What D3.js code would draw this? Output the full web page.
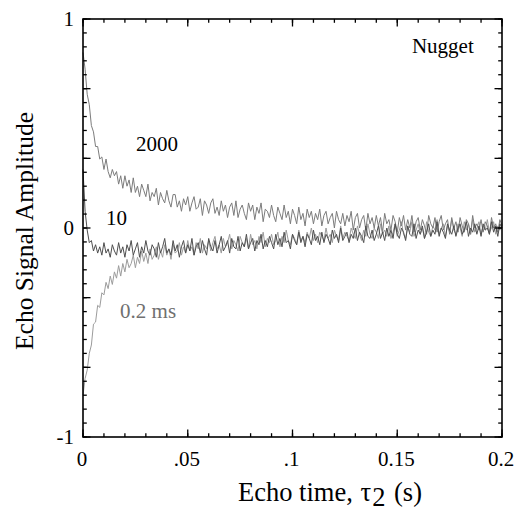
<!DOCTYPE html>
<html>
<head>
<meta charset="utf-8">
<script src="https://cdn.jsdelivr.net/npm/d3@7"></script>
<style>
  body { margin: 0; background: #fff; }
</style>
</head>
<body>
<svg id="chart" width="527" height="511"></svg>
<script>
const FONT = "'Liberation Serif', 'Times New Roman', Times, serif";

// Echo amplitude traces, sampled every 1 ms from 0 to 0.2 s
const sampleStep = 0.001;

// 2000 trace
const series2000 = [
  0.84, 0.76, 0.64, 0.59, 0.49, 0.46, 0.39, 0.39, 0.33, 0.34,
  0.28, 0.33, 0.27, 0.24, 0.28, 0.25, 0.27, 0.21, 0.25, 0.19,
  0.25, 0.20, 0.23, 0.17, 0.24, 0.17, 0.20, 0.15, 0.21, 0.18,
  0.15, 0.21, 0.13, 0.17, 0.15, 0.19, 0.11, 0.17, 0.14, 0.12,
  0.18, 0.13, 0.10, 0.16, 0.16, 0.10, 0.13, 0.08, 0.14, 0.11,
  0.15, 0.08, 0.12, 0.15, 0.09, 0.10, 0.14, 0.06, 0.13, 0.11,
  0.07, 0.12, 0.14, 0.07, 0.10, 0.06, 0.13, 0.08, 0.11, 0.05,
  0.10, 0.12, 0.06, 0.13, 0.05, 0.09, 0.11, 0.07, 0.04, 0.12,
  0.08, 0.11, 0.04, 0.10, 0.07, 0.12, 0.03, 0.09, 0.08, 0.05,
  0.11, 0.06, 0.03, 0.10, 0.07, 0.04, 0.11, 0.05, 0.08, 0.02,
  0.09, 0.06, 0.02, 0.10, 0.04, 0.07, 0.01, 0.09, 0.05, 0.08,
  0.02, 0.07, 0.04, 0.09, 0.01, 0.06, 0.08, 0.02, 0.05, 0.07,
  0.00, 0.08, 0.04, 0.02, 0.07, 0.01, 0.06, 0.03, 0.08, -0.01,
  0.05, 0.07, 0.00, 0.04, 0.06, -0.01, 0.07, 0.02, 0.05, 0.00,
  0.06, 0.01, 0.05, -0.02, 0.07, 0.02, 0.04, -0.01, 0.06, 0.03,
  -0.02, 0.05, 0.01, 0.06, -0.01, 0.04, 0.00, 0.06, -0.02, 0.03,
  0.05, -0.01, 0.04, 0.01, -0.03, 0.06, 0.02, 0.00, 0.05, -0.02,
  0.03, 0.06, -0.01, 0.02, 0.04, -0.03, 0.05, 0.00, 0.03, -0.02,
  0.05, 0.01, -0.02, 0.04, 0.02, -0.03, 0.06, 0.00, 0.02, -0.01,
  0.04, -0.02, 0.03, 0.01, -0.03, 0.05, 0.00, 0.02, -0.02, 0.04,
  0.01
];

// 10 trace
const series10 = [
  0.28, 0.08, -0.01, -0.07, -0.06, -0.11, -0.08, -0.12, -0.09, -0.13,
  -0.07, -0.12, -0.10, -0.14, -0.08, -0.11, -0.13, -0.07, -0.12, -0.09,
  -0.14, -0.08, -0.11, -0.06, -0.13, -0.10, -0.07, -0.14, -0.09, -0.12,
  -0.06, -0.11, -0.13, -0.08, -0.10, -0.14, -0.07, -0.12, -0.09, -0.05,
  -0.12, -0.10, -0.13, -0.06, -0.11, -0.08, -0.14, -0.09, -0.06, -0.12,
  -0.08, -0.11, -0.05, -0.13, -0.09, -0.07, -0.12, -0.06, -0.10, -0.13,
  -0.05, -0.09, -0.11, -0.06, -0.12, -0.08, -0.04, -0.11, -0.09, -0.06,
  -0.12, -0.05, -0.09, -0.10, -0.04, -0.11, -0.07, -0.09, -0.03, -0.10,
  -0.07, -0.05, -0.11, -0.06, -0.08, -0.03, -0.10, -0.06, -0.09, -0.04,
  -0.07, -0.10, -0.03, -0.08, -0.05, -0.09, -0.02, -0.07, -0.06, -0.10,
  -0.03, -0.06, -0.08, -0.02, -0.07, -0.04, -0.09, -0.03, -0.05, -0.08,
  -0.01, -0.06, -0.04, -0.08, -0.02, -0.07, -0.03, -0.05, -0.08, -0.01,
  -0.05, -0.03, -0.07, 0.00, -0.06, -0.04, -0.02, -0.07, -0.03, -0.05,
  0.00, -0.06, -0.02, -0.04, -0.07, 0.01, -0.04, -0.05, -0.01, -0.06,
  -0.03, 0.01, -0.05, -0.02, -0.06, 0.00, -0.04, -0.01, -0.05, 0.02,
  -0.03, -0.05, 0.00, -0.02, -0.06, 0.01, -0.03, -0.04, 0.02, -0.05,
  -0.01, -0.03, 0.01, -0.05, -0.02, 0.02, -0.04, -0.01, -0.03, 0.03,
  -0.04, 0.00, -0.02, -0.05, 0.02, -0.01, -0.03, 0.01, -0.04, 0.00,
  0.02, -0.03, -0.01, 0.03, -0.04, 0.00, -0.02, 0.02, -0.03, 0.01,
  -0.04, 0.02, -0.01, 0.00, -0.03, 0.03, -0.02, 0.01, -0.04, 0.02,
  0.00
];

// 0.2 ms trace
const series02 = [
  -0.80, -0.72, -0.68, -0.60, -0.56, -0.46, -0.45, -0.37, -0.38, -0.31,
  -0.32, -0.26, -0.29, -0.23, -0.27, -0.21, -0.24, -0.18, -0.23, -0.17,
  -0.21, -0.15, -0.19, -0.17, -0.13, -0.19, -0.14, -0.17, -0.11, -0.16,
  -0.12, -0.17, -0.10, -0.15, -0.13, -0.09, -0.15, -0.11, -0.14, -0.08,
  -0.13, -0.10, -0.15, -0.08, -0.12, -0.11, -0.07, -0.13, -0.09, -0.12,
  -0.06, -0.11, -0.09, -0.13, -0.07, -0.10, -0.05, -0.12, -0.08, -0.10,
  -0.06, -0.11, -0.07, -0.04, -0.10, -0.08, -0.12, -0.05, -0.09, -0.07,
  -0.03, -0.10, -0.06, -0.08, -0.11, -0.04, -0.07, -0.09, -0.05, -0.10,
  -0.03, -0.08, -0.06, -0.10, -0.04, -0.07, -0.02, -0.09, -0.05, -0.07,
  -0.03, -0.08, -0.06, -0.02, -0.09, -0.04, -0.07, -0.01, -0.06, -0.08,
  -0.03, -0.05, -0.08, -0.01, -0.06, -0.04, -0.07, -0.02, -0.05, 0.00,
  -0.06, -0.03, -0.07, -0.02, -0.04, -0.06, 0.00, -0.05, -0.03, -0.07,
  -0.01, -0.04, -0.06, 0.01, -0.05, -0.02, -0.04, -0.06, 0.00, -0.03,
  -0.05, 0.01, -0.03, -0.06, -0.01, -0.04, 0.02, -0.03, -0.05, 0.00,
  -0.02, -0.05, 0.02, -0.03, -0.01, -0.04, 0.01, -0.05, -0.02, 0.02,
  -0.04, -0.01, 0.03, -0.03, -0.05, 0.01, -0.02, 0.03, -0.04, -0.01,
  0.02, -0.03, 0.00, -0.05, 0.03, -0.02, -0.04, 0.01, -0.01, 0.04,
  -0.03, 0.00, 0.02, -0.04, 0.01, -0.02, 0.04, -0.01, -0.03, 0.02,
  0.00, -0.04, 0.03, -0.01, 0.02, -0.03, 0.04, -0.02, 0.00, 0.03,
  -0.03, 0.01, -0.01, 0.04, -0.02, 0.00, 0.03, -0.03, 0.01, -0.01,
  0.02
];

// Axis ticks
const xMajorTicks = [0, 0.05, 0.1, 0.15, 0.2];
const xTickLabels = ["0", ".05", ".1", "0.15", "0.2"];
const xMinorTicks = d3.range(0, 0.2001, 0.01);
const yMajorTicks = [-1, -2/3, -1/3, 0, 1/3, 2/3, 1];
const yLabelled = [-1, 0, 1];
const yMinorTicks = d3.range(-1, 1.0001, 1/15);

// Layout
const margin = {left: 83, right: 25, top: 19, bottom: 74};
const width = 527, height = 511;
const graphWidth = width - margin.left - margin.right;
const graphHeight = height - margin.top - margin.bottom;

const x = d3.scaleLinear().domain([0, 0.2]).range([0, graphWidth]);
const y = d3.scaleLinear().domain([-1, 1]).range([graphHeight, 0]);

const svg = d3.select("#chart");
const g = svg.append("g").attr("transform", `translate(${margin.left},${margin.top})`);

// Traces
const line = d3.line()
  .x((d, i) => x(i * sampleStep))
  .y(d => y(d));

const traces = [
  {values: series02, color: "#9c9c9c"},
  {values: series2000, color: "#7c7c7c"},
  {values: series10, color: "#4f4f4f"}
];
traces.forEach(t => {
  g.append("path")
    .datum(t.values)
    .attr("d", line)
    .attr("fill", "none")
    .attr("stroke", t.color)
    .attr("stroke-width", 1);
});

// Inward ticks on all four sides
const tickGroup = g.append("g").attr("stroke", "#000").attr("stroke-width", 1.3);
function xTicks(values, len) {
  tickGroup.selectAll(null).data(values).join("line")
    .attr("x1", d => x(d)).attr("x2", d => x(d))
    .attr("y1", graphHeight).attr("y2", graphHeight - len);
  tickGroup.selectAll(null).data(values).join("line")
    .attr("x1", d => x(d)).attr("x2", d => x(d))
    .attr("y1", 0).attr("y2", len);
}
function yTicks(values, len) {
  tickGroup.selectAll(null).data(values).join("line")
    .attr("y1", d => y(d)).attr("y2", d => y(d))
    .attr("x1", 0).attr("x2", len);
  tickGroup.selectAll(null).data(values).join("line")
    .attr("y1", d => y(d)).attr("y2", d => y(d))
    .attr("x1", graphWidth).attr("x2", graphWidth - len);
}
xTicks(xMinorTicks, 3.8);
xTicks(xMajorTicks, 7.5);
yTicks(yMinorTicks, 3.8);
yTicks(yMajorTicks, 7.5);

// Tick labels
g.append("g").attr("transform", `translate(0,${graphHeight})`)
  .call(d3.axisBottom(x).tickValues(xMajorTicks).tickSize(0).tickPadding(14)
    .tickFormat((d, i) => xTickLabels[i]))
  .call(a => a.select(".domain").remove())
  .attr("font-family", FONT).attr("font-size", 21)
  .selectAll("text").attr("fill", "#000").attr("dx", -1.5);

g.append("g")
  .call(d3.axisLeft(y).tickValues(yLabelled).tickSize(0).tickPadding(9)
    .tickFormat(d => d < 0 ? "-1" : d3.format("d")(d)))
  .call(a => a.select(".domain").remove())
  .attr("font-family", FONT).attr("font-size", 21)
  .selectAll("text").attr("fill", "#000");

// Frame
g.append("rect")
  .attr("width", graphWidth).attr("height", graphHeight)
  .attr("fill", "none").attr("stroke", "#000").attr("stroke-width", 1.6);

// In-plot labels, placed in data coordinates
function label(tx, ty, txt, color) {
  g.append("text")
    .attr("x", x(tx)).attr("y", y(ty))
    .attr("font-family", FONT).attr("font-size", 21)
    .attr("fill", color || "#000")
    .text(txt);
}
label(0.157, 0.837, "Nugget");
label(0.0253, 0.368, "2000");
label(0.0110, 0.014, "10");
label(0.0177, -0.431, "0.2 ms", "#707070");

// Axis titles
const xTitle = svg.append("text")
  .attr("x", 330).attr("y", 501)
  .attr("text-anchor", "middle")
  .attr("font-family", FONT).attr("font-size", 26.5);
xTitle.append("tspan").text("Echo time, ");
xTitle.append("tspan").attr("dx", 1).text("\u03c4");
xTitle.append("tspan").attr("dy", 5).attr("dx", 1).text("2");
xTitle.append("tspan").attr("dy", -5).attr("dx", 2).text(" (s)");

svg.append("text")
  .attr("transform", `translate(33,${margin.top + graphHeight / 2 + 3}) rotate(-90)`)
  .attr("text-anchor", "middle")
  .attr("font-family", FONT).attr("font-size", 25.5)
  .text("Echo Signal Amplitude");
</script>
</body>
</html>
